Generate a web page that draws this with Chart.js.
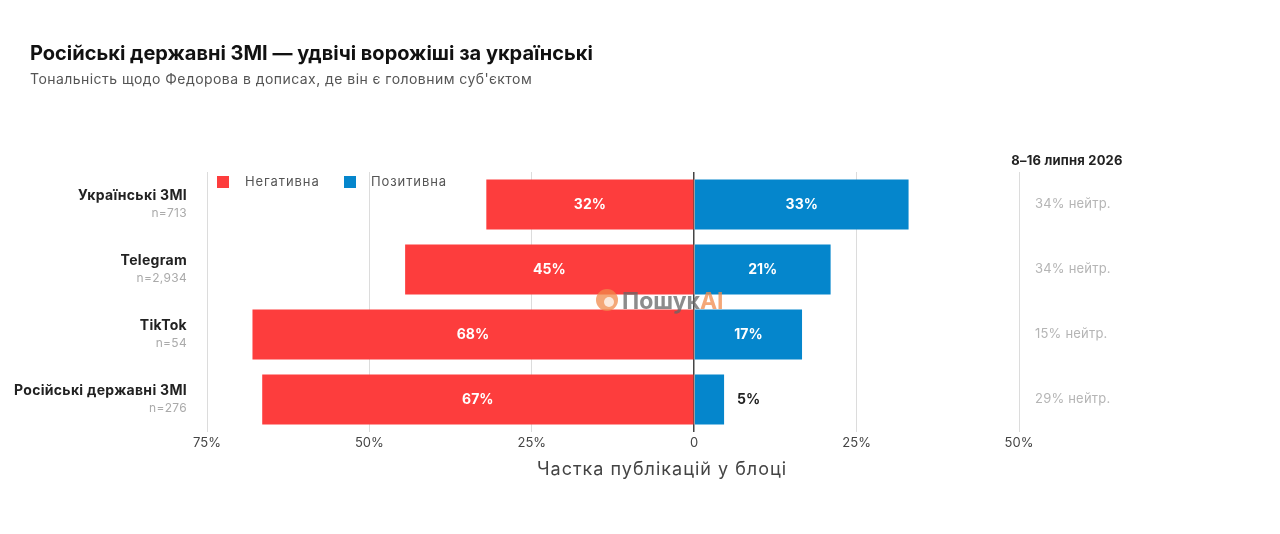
<!DOCTYPE html>
<html>
<head>
<meta charset="utf-8">
<script src="https://cdn.jsdelivr.net/npm/chart.js@4/dist/chart.umd.min.js"></script>
<style>
  html, body { margin: 0; padding: 0; background: #fff; }
  #wrap { width: 1280px; height: 534px; position: relative; }
</style>
</head>
<body>
<div id="wrap"><canvas id="tone" width="1280" height="534"></canvas></div>
<script>
/* Тональність щодо Федорова */

const categories = ['Українські ЗМІ', 'Telegram', 'TikTok', 'Російські державні ЗМІ'];
const sampleSizes = ['n=713', 'n=2,934', 'n=54', 'n=276'];
const negative = [32, 44.5, 68, 66.5];
const positive = [33, 21, 16.6, 4.6];
const neutral = [34, 34, 15, 29];
const periodLabel = '8–16 липня 2026';

const RED = '#fd3d3d';
const BLUE = '#0586cc';
const FONT = 'Inter, "Open Sans", sans-serif';

function spaced(ctx, px) {
  if ('letterSpacing' in ctx) ctx.letterSpacing = px + 'px';
}

const extras = {
  id: 'extras',
  afterDraw(chart) {
    const ctx = chart.ctx;
    const y = chart.scales.y;
    ctx.save();

    // titles
    ctx.textAlign = 'left';
    ctx.textBaseline = 'middle';
    ctx.fillStyle = '#111';
    ctx.font = 'bold 20px ' + FONT;
    spaced(ctx, 0);
    ctx.fillText('Російські державні ЗМІ — удвічі ворожіші за українські', 30, 54);
    ctx.fillStyle = '#555';
    ctx.font = '14px ' + FONT;
    spaced(ctx, 0.45);
    ctx.fillText('Тональність щодо Федорова в дописах, де він є головним суб\'єктом', 30, 80);

    // legend
    ctx.font = '13px ' + FONT;
    spaced(ctx, 0.9);
    ctx.fillStyle = RED; ctx.fillRect(217, 176, 12, 12);
    ctx.fillStyle = '#555'; ctx.fillText('Негативна', 245, 182);
    ctx.fillStyle = BLUE; ctx.fillRect(344, 176, 12, 12);
    ctx.fillStyle = '#555'; ctx.fillText('Позитивна', 371, 182);

    // category labels and neutral share
    categories.forEach((c, i) => {
      const cy = y.getPixelForValue(i);
      ctx.textAlign = 'right';
      ctx.fillStyle = '#222';
      ctx.font = 'bold 14px ' + FONT;
      spaced(ctx, 0.3);
      ctx.fillText(c, 187, cy - 9);
      ctx.fillStyle = '#aaa';
      ctx.font = '12px ' + FONT;
      spaced(ctx, 0.3);
      ctx.fillText(sampleSizes[i], 187, cy + 9);
      ctx.textAlign = 'left';
      ctx.fillStyle = '#b5b5b5';
      ctx.font = '13px ' + FONT;
      spaced(ctx, 0.2);
      ctx.fillText(neutral[i] + '% нейтр.', 1035, cy);
    });

    ctx.textAlign = 'center';
    ctx.fillStyle = '#222';
    ctx.font = 'bold 13px ' + FONT;
    spaced(ctx, 0.2);
    ctx.fillText(periodLabel, 1067, 161);

    // bar value labels
    spaced(ctx, 0);
    chart.data.datasets.forEach((ds, di) => {
      chart.getDatasetMeta(di).data.forEach((bar, i) => {
        const v = Math.abs(ds.data[i]);
        const w = Math.abs(bar.x - bar.base);
        ctx.font = 'bold 14px ' + FONT;
        if (w > 40) {
          ctx.textAlign = 'center';
          ctx.fillStyle = '#fff';
          ctx.fillText(Math.round(v) + '%', (bar.x + bar.base) / 2, bar.y);
        } else {
          ctx.textAlign = 'left';
          ctx.fillStyle = '#222';
          ctx.fillText(Math.round(v) + '%', Math.max(bar.x, bar.base) + 13, bar.y);
        }
      });
    });

    // axis title
    ctx.textAlign = 'center';
    ctx.fillStyle = '#444';
    ctx.font = '18px ' + FONT;
    spaced(ctx, 1);
    ctx.fillText('Частка публікацій у блоці', 662, 470);

    // watermark
    spaced(ctx, 0);
    ctx.globalAlpha = 0.75;
    ctx.fillStyle = '#f08a4b';
    ctx.beginPath();
    ctx.arc(607, 300, 11, 0, 2 * Math.PI);
    ctx.fill();
    ctx.fillStyle = '#fff';
    ctx.beginPath();
    ctx.arc(609, 302, 5, 0, 2 * Math.PI);
    ctx.fill();
    ctx.textAlign = 'left';
    ctx.font = 'bold 23px ' + FONT;
    ctx.fillStyle = '#666';
    ctx.fillText('Пошук', 622, 302);
    const pw = ctx.measureText('Пошук').width;
    ctx.fillStyle = '#f08a4b';
    ctx.fillText('AI', 622 + pw, 302);
    ctx.restore();
  }
};

new Chart(document.getElementById('tone'), {
  type: 'bar',
  data: {
    labels: categories,
    datasets: [
      { label: 'Негативна', data: negative.map(v => -v), backgroundColor: RED },
      { label: 'Позитивна', data: positive, backgroundColor: BLUE }
    ]
  },
  options: {
    indexAxis: 'y',
    responsive: false,
    animation: false,
    layout: { padding: { left: 207, right: 261, top: 172, bottom: 62 } },
    datasets: { bar: { barPercentage: 0.77, categoryPercentage: 1 } },
    plugins: { legend: { display: false }, tooltip: { enabled: false } },
    scales: {
      x: {
        stacked: true,
        min: -75, max: 50,
        border: { display: false },
        grid: {
          drawTicks: false,
          color: c => c.tick && c.tick.value === 0 ? '#444' : '#dcdcdc',
          lineWidth: c => c.tick && c.tick.value === 0 ? 1.5 : 1
        },
        ticks: {
          stepSize: 25,
          padding: 3,
          color: '#444',
          font: { family: FONT, size: 13 },
          callback: v => v === 0 ? '0' : Math.abs(v) + '%'
        },
        afterFit: s => { s.height = 40; }
      },
      y: { stacked: true, display: false }
    }
  },
  plugins: [extras]
});
</script>
</body>
</html>
